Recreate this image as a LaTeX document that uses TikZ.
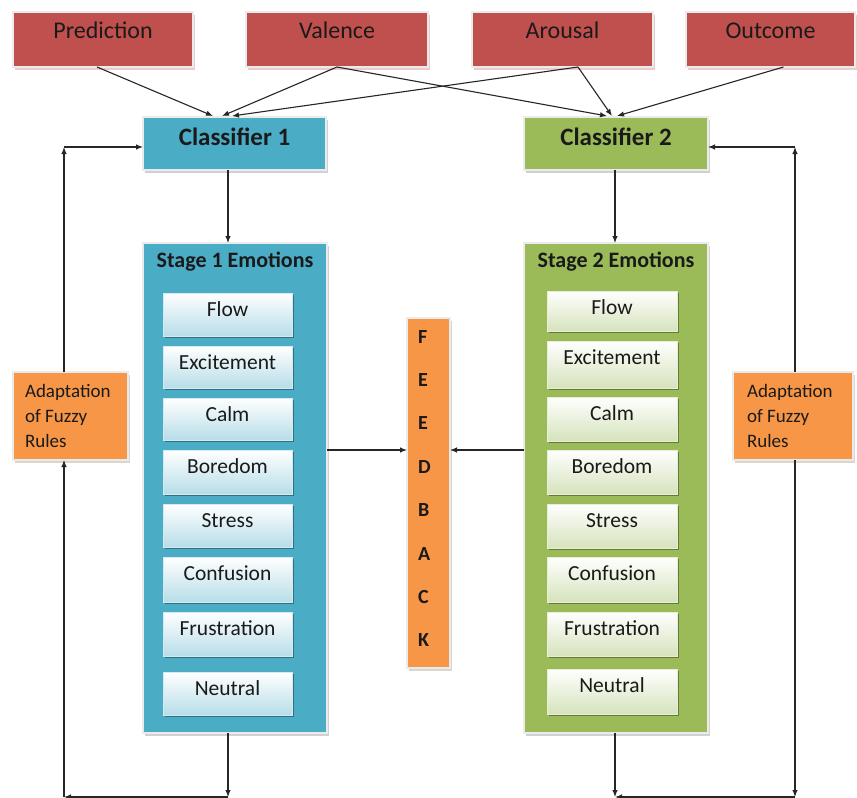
\documentclass[tikz,border=0pt]{standalone}
\usepackage{fontspec}
\setmainfont{Carlito}
\usetikzlibrary{arrows.meta,shadows,calc}

\definecolor{redfill}{HTML}{C0504D}
\definecolor{bluefill}{HTML}{4BACC6}
\definecolor{greenfill}{HTML}{9BBB59}
\definecolor{orangefill}{HTML}{F79646}
\definecolor{bluelite}{HTML}{B7DDE8}
\definecolor{greenlite}{HTML}{D6E3BC}
\definecolor{txt}{HTML}{1A1A1A}

\begin{document}
\begin{tikzpicture}[x=1pt,y=-1pt,
  every node/.style={inner sep=0pt, outer sep=0pt},
  arr/.style={draw=black!85, line width=1.1pt, -{Latex[length=7pt,width=5.5pt]}},
  basebox/.style={rectangle, draw=white!92!black, line width=1.2pt, text=txt},
  topbox/.style={basebox, fill=redfill, minimum height=55pt, text height=26pt, text depth=29pt,
    font=\fontsize{24}{28}\selectfont,
    drop shadow={shadow xshift=2pt, shadow yshift=-3pt, fill=redfill!30!white, opacity=1}},
  clsbox/.style={basebox, minimum height=53pt, text height=28pt, text depth=25pt,
    font=\fontsize{25}{30}\selectfont\bfseries,
    drop shadow={shadow xshift=2pt, shadow yshift=-3pt, fill=black!18, opacity=1}},
  stagebox/.style={basebox, minimum width=184pt, minimum height=490pt,
    drop shadow={shadow xshift=2pt, shadow yshift=-3pt, fill=black!18, opacity=1}},
  stagetitle/.style={font=\fontsize{22}{26}\selectfont\bfseries, text=txt, anchor=base},
  emo/.style={rectangle, line width=0.8pt, text=txt, text height=23pt,
    font=\fontsize{21.5}{26}\selectfont},
  emoA/.style={emo, draw=bluefill!25!white, top color=white, bottom color=bluelite,
    drop shadow={shadow xshift=1.5pt, shadow yshift=-2pt, fill=bluefill!65!black, opacity=1}},
  emoB/.style={emo, draw=greenfill!25!white, top color=white, bottom color=greenlite,
    drop shadow={shadow xshift=1.5pt, shadow yshift=-2pt, fill=greenfill!65!black, opacity=1}},
  orbox/.style={basebox, fill=orangefill,
    drop shadow={shadow xshift=2pt, shadow yshift=-3pt, fill=orangefill!30!black!20!white, opacity=1}},
  adtext/.style={anchor=base west, text=txt, font=\fontsize{19}{25}\selectfont},
  fbtext/.style={anchor=base west, text=txt, font=\fontsize{20}{43.4}\selectfont\bfseries}
]
\useasboundingbox[fill=white] (0,0) rectangle (857,798);

% input boxes
\node[topbox, minimum width=180pt] (pred) at (103,39.5) {Prediction};
\node[topbox, minimum width=182pt] (val) at (337,39.5) {Valence};
\node[topbox, minimum width=181pt] (aro) at (562.5,39.5) {Arousal};
\node[topbox, minimum width=169pt] (out) at (770.5,39.5) {Outcome};

% classifiers
\node[clsbox, fill=bluefill, minimum width=183pt] (c1) at (234.5,143.5) {Classifier 1};
\node[clsbox, fill=greenfill, minimum width=184pt] (c2) at (616,143.5) {Classifier 2};

% emotion stages
\node[stagebox, fill=bluefill] (s1) at (235,488) {};
\node[stagebox, fill=greenfill] (s2) at (616,488) {};
\node[stagetitle] (s1t) at (235,267) {Stage 1 Emotions};
\node[stagetitle] (s2t) at (616,267) {Stage 2 Emotions};

\foreach \n/\t/\b/\lbl in {1/293/336/Flow, 2/346/388/Excitement, 3/398/440/Calm,
    4/450/494/Boredom, 5/504/547/Stress, 6/557/602/Confusion,
    7/612/656/Frustration, 8/672/715/Neutral}{
  \pgfmathsetmacro\hh{\b-\t}
  \pgfmathsetmacro\dd{\b-\t-23}
  \pgfmathsetmacro\cy{(\t+\b)/2}
  \node[emoA, minimum width=129pt, minimum height=\hh pt, text depth=\dd pt] (ea\n) at (227.5,\cy) {\lbl};
}
\foreach \n/\t/\b/\lbl in {1/291/331/Flow, 2/341/388/Excitement, 3/397/441/Calm,
    4/450/494/Boredom, 5/504/548/Stress, 6/557/602/Confusion,
    7/612/656/Frustration, 8/669/714/Neutral}{
  \pgfmathsetmacro\hh{\b-\t}
  \pgfmathsetmacro\dd{\b-\t-23}
  \pgfmathsetmacro\cy{(\t+\b)/2}
  \node[emoB, minimum width=130pt, minimum height=\hh pt, text depth=\dd pt] (eb\n) at (612,\cy) {\lbl};
}

% feedback column
\node[orbox, minimum width=43pt, minimum height=350pt] (fb) at (428.5,493) {};
\node[fbtext] (fbt) at (418,343) {\parbox[t]{20pt}{\raggedright F\\E\\E\\D\\B\\A\\C\\K}};

% adaptation boxes
\node[orbox, minimum width=115pt, minimum height=88pt] (adL) at (70.5,416) {};
\node[orbox, minimum width=120pt, minimum height=88pt] (adR) at (793,416) {};
\node[adtext] (adLt) at (25,397) {\parbox[t]{100pt}{\raggedright Adaptation\\of Fuzzy\\Rules}};
\node[adtext] (adRt) at (747,397) {\parbox[t]{100pt}{\raggedright Adaptation\\of Fuzzy\\Rules}};

% routing points
\coordinate (Lx) at (64,147);
\coordinate (Rx) at (795,147);
\coordinate (BL) at (64,797);
\coordinate (B1) at (228,797);
\coordinate (B2) at (615,797);
\coordinate (BR) at (795,797);
\coordinate (fbY) at (0,450);

% inputs to classifiers
\draw[arr] ([xshift=-6pt]pred.south) -- ([xshift=-21.5pt,yshift=1pt]c1.north);
\draw[arr] (val.south) -- ([xshift=-12.5pt,yshift=1pt]c1.north);
\draw[arr] ([xshift=15.5pt]aro.south) -- ([xshift=-2.5pt,yshift=1pt]c1.north);
\draw[arr] (val.south) -- ([xshift=-9pt,yshift=1pt]c2.north);
\draw[arr] ([xshift=15.5pt]aro.south) -- ([xshift=-4pt,yshift=1pt]c2.north);
\draw[arr] ([xshift=13pt]out.south) -- ([xshift=1pt,yshift=1pt]c2.north);

% classifiers to stages
\draw[arr] (c1.south -| B1) -- (s1.north -| B1);
\draw[arr] (c2.south -| B2) -- (s2.north -| B2);

% stages to feedback
\draw[arr] (s1.east |- fbY) -- (fb.west |- fbY);
\draw[arr] (s2.west |- fbY) -- (fb.east |- fbY);

% left adaptation loop
\draw[arr] (adL.north -| Lx) -- (Lx);
\draw[arr] (Lx) -- (c1.west |- Lx);
\draw[arr] (BL) -- (adL.south -| BL);
\draw[arr] (s1.south -| B1) -- (B1);
\draw[arr] (B1) -- (BL);

% right adaptation loop
\draw[arr] (adR.north -| Rx) -- (Rx);
\draw[arr] (Rx) -- (c2.east |- Rx);
\draw[arr] (adR.south -| BR) -- (BR);
\draw[arr] (s2.south -| B2) -- (B2);
\draw[arr] (BR) -- (B2);
\end{tikzpicture}
\end{document}
